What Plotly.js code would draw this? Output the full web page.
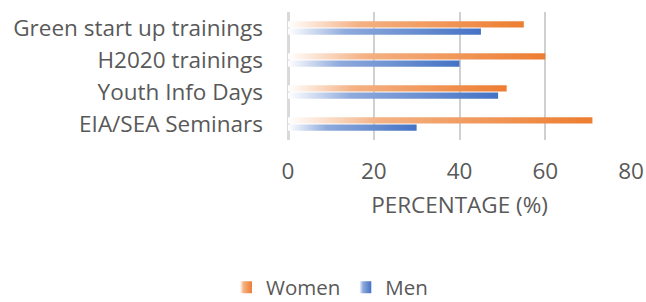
<!DOCTYPE html>
<html>
<head>
<meta charset="utf-8">
<script src="https://cdn.plot.ly/plotly-3.0.1.min.js"></script>
<style>html,body{margin:0;padding:0;background:#fff;}#chart{width:646px;height:302px;}</style>
</head>
<body>
<div id="chart"></div>
<script>
const categories = ["Green start up trainings", "H2020 trainings", "Youth Info Days", "EIA/SEA Seminars"];
const women = [55, 60, 51, 71];
const men = [45, 40, 49, 30];
const seriesNames = ["Women", "Men"];
const xTicks = [0, 20, 40, 60, 80];

const font = {family: "Open Sans, sans-serif", size: 22.5, color: "#595959"};
const legendFont = {family: "Open Sans, sans-serif", size: 20.5, color: "#595959"};

const traces = [
  {type: "bar", orientation: "h", name: seriesNames[0], y: categories, x: women,
   marker: {color: "#ED7D31"}},
  {type: "bar", orientation: "h", name: seriesNames[1], y: categories, x: men,
   marker: {color: "#4472C4"}}
];

const layout = {
  width: 646, height: 302,
  margin: {l: 288, r: 15, t: 12, b: 162},
  paper_bgcolor: "#fff", plot_bgcolor: "#fff",
  font: font,
  barmode: "group", bargap: 0.55, bargroupgap: 0.15,
  showlegend: true,
  legend: {orientation: "h", xref: "container", x: 0.51, xanchor: "center",
           yref: "container", y: 0.048, yanchor: "middle", font: legendFont, itemwidth: 30},
  xaxis: {range: [0, 80], tickvals: xTicks, showgrid: true, gridcolor: "#d0d0d0", gridwidth: 2,
          zeroline: true, zerolinecolor: "#d9d9d9", zerolinewidth: 3,
          ticks: "", ticklabelstandoff: 15, tickfont: font,
          title: {text: "PERCENTAGE (%)", font: font, standoff: 12}},
  yaxis: {autorange: "reversed", showgrid: false, zeroline: false, ticks: "",
          ticklabelstandoff: 24, tickfont: font}
};

Plotly.newPlot("chart", traces, layout, {displayModeBar: false, staticPlot: true}).then(function (gd) {
  const svgs = gd.querySelectorAll("svg.main-svg");
  const ns = "http://www.w3.org/2000/svg";
  const defs = svgs[0].querySelector("defs") || svgs[0].insertBefore(document.createElementNS(ns, "defs"), svgs[0].firstChild);
  function grad(id, stops) {
    const g = document.createElementNS(ns, "linearGradient");
    g.setAttribute("id", id);
    g.setAttribute("x1", "0"); g.setAttribute("x2", "1"); g.setAttribute("y1", "0"); g.setAttribute("y2", "0");
    stops.forEach(function (s) {
      const st = document.createElementNS(ns, "stop");
      st.setAttribute("offset", s[0]);
      st.setAttribute("stop-color", s[1]);
      g.appendChild(st);
    });
    defs.appendChild(g);
  }
  grad("gWomen", [["0", "#ffffff"], ["0.3", "#F4B183"], ["1", "#ED7D31"]]);
  grad("gMen", [["0", "#ffffff"], ["0.3", "#8FAADC"], ["1", "#4472C4"]]);
  const ids = ["gWomen", "gMen"];
  gd.querySelectorAll("g.barlayer g.trace").forEach(function (t, i) {
    t.querySelectorAll("path").forEach(function (p) { p.style.fill = "url(#" + ids[i] + ")"; });
  });
  gd.querySelectorAll("g.legend g.traces").forEach(function (t, i) {
    t.querySelectorAll("g.legendpoints path").forEach(function (p) { p.style.fill = "url(#" + ids[i] + ")"; });
  });
});
</script>
</body>
</html>
